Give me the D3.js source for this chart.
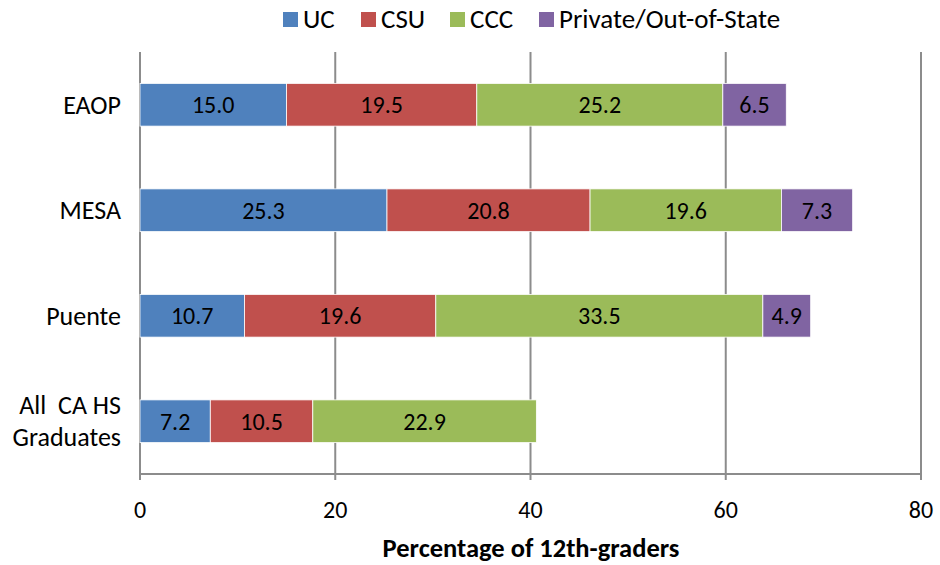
<!DOCTYPE html>
<html><head><meta charset="utf-8">
<script src="https://cdn.jsdelivr.net/npm/d3@7"></script>
<style>body{margin:0;background:#fff}svg{display:block}text{font-family:Carlito,Calibri,"Open Sans","Liberation Sans",sans-serif}</style>
</head><body><svg id="c" width="940" height="565"></svg>
<script>
const categories = ["EAOP","MESA","Puente","All  CA HS|Graduates"];
const seriesNames = ["UC","CSU","CCC","Private/Out-of-State"];
const UC = [15.0,25.3,10.7,7.2];
const CSU = [19.5,20.8,19.6,10.5];
const CCC = [25.2,19.6,33.5,22.9];
const Private = [6.5,7.3,4.9,0];
const xTicks = [0,20,40,60,80];
const colors = ["#4F81BD","#C0504D","#9BBB59","#8064A2"];

const svg = d3.select("#c");
const m = {l:140, r:19, t:52, b:91};
const W = 940, H = 565;
const x = d3.scaleLinear().domain([0,80]).range([m.l, W-m.r]);
const y = d3.scaleBand().domain(categories).range([m.t, H-m.b]).paddingInner(0.595).paddingOuter(0.2975);

const rows = categories.map((c,i)=>({cat:c, UC:UC[i], CSU:CSU[i], CCC:CCC[i], "Private/Out-of-State":Private[i]}));
const stack = d3.stack().keys(seriesNames)(rows);

svg.append("g").selectAll("line").data(xTicks.slice(1)).join("line")
  .attr("x1",d=>x(d)).attr("x2",d=>x(d)).attr("y1",m.t).attr("y2",H-m.b+6)
  .attr("stroke","#8c8c8c").attr("stroke-width",2);
svg.append("line").attr("x1",x(0)).attr("x2",x(0)).attr("y1",m.t).attr("y2",H-m.b+6)
  .attr("stroke","#8c8c8c").attr("stroke-width",2);
svg.append("line").attr("x1",x(0)-1).attr("x2",x(80)+1).attr("y1",H-m.b).attr("y2",H-m.b)
  .attr("stroke","#8c8c8c").attr("stroke-width",2);

const g = svg.append("g");
stack.forEach((s,si)=>{
  g.append("g").selectAll("rect").data(s.filter(d=>d[1]-d[0]>0)).join("rect")
    .attr("x",d=>x(d[0])).attr("width",d=>x(d[1])-x(d[0]))
    .attr("y",d=>y(d.data.cat)).attr("height",y.bandwidth())
    .attr("fill",colors[si]).attr("stroke","#fff").attr("stroke-width",0.8);
  g.append("g").selectAll("text").data(s.filter(d=>d[1]-d[0]>0)).join("text")
    .attr("x",d=>(x(d[0])+x(d[1]))/2).attr("y",d=>y(d.data.cat)+y.bandwidth()/2)
    .attr("dy","0.35em").attr("text-anchor","middle").attr("font-size",24).attr("fill","#000")
    .text(d=>(d[1]-d[0]).toFixed(1));
});

categories.forEach(c=>{
  const lines = c.split("|");
  const cy = y(c)+y.bandwidth()/2;
  const t = svg.append("text").attr("text-anchor","end").attr("font-size",26).attr("fill","#000");
  lines.forEach((ln,i)=>{
    t.append("tspan").attr("x",121).attr("y",cy+(i-(lines.length-1)/2)*32).attr("dy","0.35em")
      .style("white-space","pre").text(ln);
  });
});

svg.append("g").selectAll("text").data(xTicks).join("text")
  .attr("x",d=>x(d)).attr("y",510).attr("dy","0.35em").attr("text-anchor","middle").attr("font-size",24).text(d=>d);

svg.append("text").attr("x",531).attr("y",548).attr("dy","0.35em").attr("text-anchor","middle")
  .attr("font-size",26.5).attr("font-weight","bold").text("Percentage of 12th-graders");

const legX = [283,361,450,539];
seriesNames.forEach((n,i)=>{
  svg.append("rect").attr("x",legX[i]).attr("y",12).attr("width",15).attr("height",15).attr("fill",colors[i]);
  svg.append("text").attr("x",legX[i]+20).attr("y",19).attr("dy","0.35em").attr("font-size",27).text(n);
});
</script></body></html>
